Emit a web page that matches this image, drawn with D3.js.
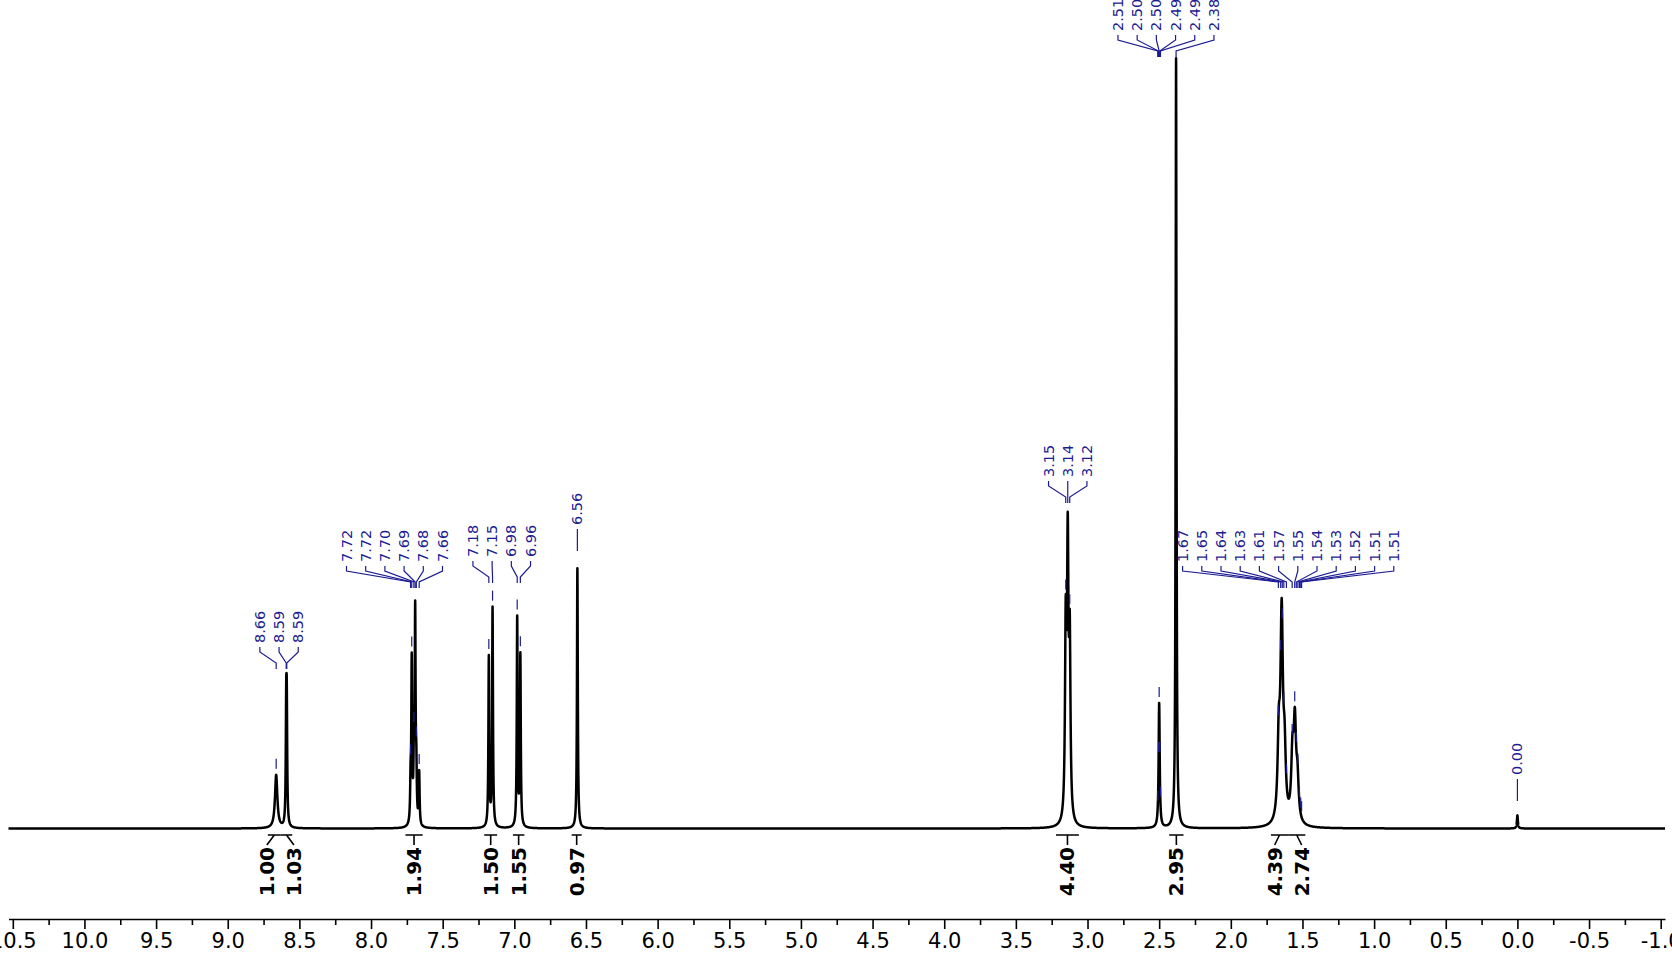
<!DOCTYPE html>
<html>
<head>
<meta charset="utf-8">
<script src="https://cdn.jsdelivr.net/npm/d3@7"></script>
<style>
body { margin: 0; background: #fff; }
svg { display: block; }
</style>
</head>
<body>
<script>
var width = 1672,
    height = 960;

// lines of the trace: shift (ppm), height (% of tallest line), half width (ppm)
var lineShift  = [8.662, 8.592, 8.588, 7.724, 7.716, 7.701, 7.692, 7.684, 7.664, 7.178, 7.152, 6.980, 6.958, 6.560,
                  3.152, 3.138, 3.124, 2.500, 2.382, 1.665, 1.645, 1.625, 1.570, 1.553, 1.535, 0.000];
var lineHeight = [6.9, 13.3, 13.3, 4.9, 21, 8, 27, 6, 6.8, 22, 28.4, 27.1, 22.2, 33.8,
                  24, 34, 22, 16.2, 100, 10, 26, 8, 8, 12, 5, 1.7];
var lineWidth  = [0.010, 0.0035, 0.0035, 0.0035, 0.0035, 0.0035, 0.0035, 0.0035, 0.0035, 0.0035, 0.0035, 0.0035, 0.0035, 0.0035,
                  0.006, 0.006, 0.006, 0.0045, 0.0035, 0.010, 0.010, 0.010, 0.010, 0.010, 0.010, 0.004];

// peak picking labels, one list per group, and the picked shifts
var pickText = [
    ["8.66", "8.59", "8.59"],
    ["7.72", "7.72", "7.70", "7.69", "7.68", "7.66"],
    ["7.18", "7.15", "6.98", "6.96"],
    ["6.56"],
    ["3.15", "3.14", "3.12"],
    ["2.51", "2.50", "2.50", "2.49", "2.49", "2.38"],
    ["1.67", "1.65", "1.64", "1.63", "1.61", "1.57", "1.55", "1.54", "1.53", "1.52", "1.51", "1.51"],
    ["0.00"]
];
var pickShift = [
    [8.662, 8.592, 8.588],
    [7.724, 7.716, 7.701, 7.692, 7.684, 7.664],
    [7.178, 7.152, 6.980, 6.958],
    [6.560],
    [3.152, 3.138, 3.124],
    [2.510, 2.504, 2.500, 2.496, 2.491, 2.382],
    [1.668, 1.652, 1.641, 1.630, 1.612, 1.572, 1.554, 1.543, 1.532, 1.521, 1.512, 1.506],
    [0.000]
];

// integrals
var integralText = ["1.00", "1.03", "1.94", "1.50", "1.55", "0.97", "4.40", "2.95", "4.39", "2.74"];
var integralFrom = [8.72, 8.63, 7.76, 7.21, 7.01, 6.60, 3.22, 2.43, 1.72, 1.60];
var integralTo   = [8.63, 8.55, 7.64, 7.12, 6.93, 6.53, 3.06, 2.33, 1.60, 1.48];

// axis ticks (ppm)
var tickShift = d3.range(0, 47).map(function(i) { return +(10.5 - i * 0.25).toFixed(2); });

// label layout: bottom of each label group and sideways nudge (px)
var groupBase  = [643, 562, 557, 525, 477, 31, 562, 775];
var groupNudge = [-4, -20, -3, 0, 0, 4, -3, 0];

var blue = "#1c1c92";

var svg = d3.select("body").append("svg")
    .attr("width", width)
    .attr("height", height)
    .style("background", "#fff");

var x = d3.scaleLinear()
    .domain([10.53, -1.03])
    .range([8.5, 1665]);

var y = d3.scaleLinear()
    .domain([0, 100])
    .range([828.5, 58.5]);

function intensity(ppm) {
    var s = 0;
    for (var i = 0; i < lineShift.length; i++) {
        var d = (ppm - lineShift[i]) / lineWidth[i];
        s += lineHeight[i] / (1 + d * d);
    }
    return s;
}

// trace
var trace = d3.range(0, 23121).map(function(i) {
    var p = 10.53 - i * 0.0005;
    return { p: p, v: intensity(p) };
});

svg.append("path")
    .datum(trace)
    .attr("fill", "none")
    .attr("stroke", "#000")
    .attr("stroke-width", 2.5)
    .attr("stroke-linejoin", "round")
    .attr("d", d3.line()
        .x(function(d) { return x(d.p); })
        .y(function(d) { return y(d.v); }));

// axis
var axis = svg.append("g")
    .attr("transform", "translate(0,919)")
    .call(d3.axisBottom(x)
        .tickValues(tickShift)
        .tickSize(10)
        .tickSizeOuter(0)
        .tickPadding(4)
        .tickFormat(function(d) { return d.toFixed(1); }));

axis.select(".domain").attr("stroke-width", 1.6);
axis.selectAll(".tick line").attr("stroke-width", 1.6)
    .attr("y2", function(d, i) { return i % 2 ? 6 : 10; });
axis.selectAll(".tick text")
    .attr("font-family", "'DejaVu Sans', Verdana, sans-serif")
    .attr("font-size", 21)
    .attr("fill", "#000")
    .style("display", function(d, i) { return i % 2 ? "none" : null; });

// peak labels
var labels = svg.append("g");
pickText.forEach(function(texts, g) {
    var shifts = pickShift[g];
    var cx = d3.mean(shifts, function(s) { return x(s); }) + groupNudge[g];
    var n = texts.length;
    var base = groupBase[g];
    var y1 = base + 4, y2 = y1 + 5, y3 = y2 + 11, y4 = y3 + 6;
    texts.forEach(function(t, i) {
        var lx = cx + (i - (n - 1) / 2) * 19.2;
        var px = x(shifts[i]);
        labels.append("text")
            .attr("transform", "translate(" + [lx, base] + ")rotate(-90)")
            .attr("dy", "0.35em")
            .attr("font-family", "'DejaVu Sans', Verdana, sans-serif")
            .attr("font-size", 14.5)
            .attr("fill", blue)
            .text(t);
        labels.append("path")
            .attr("fill", "none")
            .attr("stroke", blue)
            .attr("stroke-width", 1.2)
            .attr("d", "M" + [lx, y1] + "L" + [lx, y2] + "L" + [px, y3] + "L" + [px, y4]);
        var top = y(intensity(shifts[i]));
        if (top - 16 > y4 + 4) {
            labels.append("line")
                .attr("x1", px).attr("x2", px)
                .attr("y1", top - 16).attr("y2", top - 6)
                .attr("stroke", blue)
                .attr("stroke-width", 1.2);
        }
    });
});

// integrals
var ints = integralText.map(function(t, i) {
    var mid = x((integralFrom[i] + integralTo[i]) / 2);
    return { t: t, x0: x(integralFrom[i]), x1: x(integralTo[i]), mid: mid, lx: mid };
});
for (var k = 1; k < ints.length; k++) {
    var gap = ints[k].lx - ints[k - 1].lx;
    if (gap < 27) {
        ints[k - 1].lx -= (27 - gap) / 2;
        ints[k].lx += (27 - gap) / 2;
    }
}

var ig = svg.append("g");
ints.forEach(function(d) {
    ig.append("path")
        .attr("fill", "none")
        .attr("stroke", "#000")
        .attr("stroke-width", 1.6)
        .attr("d", "M" + [d.x0, 835] + "L" + [d.x1, 835] + "M" + [d.mid, 835] + "L" + [d.lx, 845]);
    ig.append("text")
        .attr("transform", "translate(" + [d.lx, 847] + ")rotate(-90)")
        .attr("dy", "0.35em")
        .attr("text-anchor", "end")
        .attr("font-family", "'DejaVu Sans', Verdana, sans-serif")
        .attr("font-weight", "bold")
        .attr("font-size", 20)
        .attr("fill", "#000")
        .text(d.t);
});
</script>
</body>
</html>
